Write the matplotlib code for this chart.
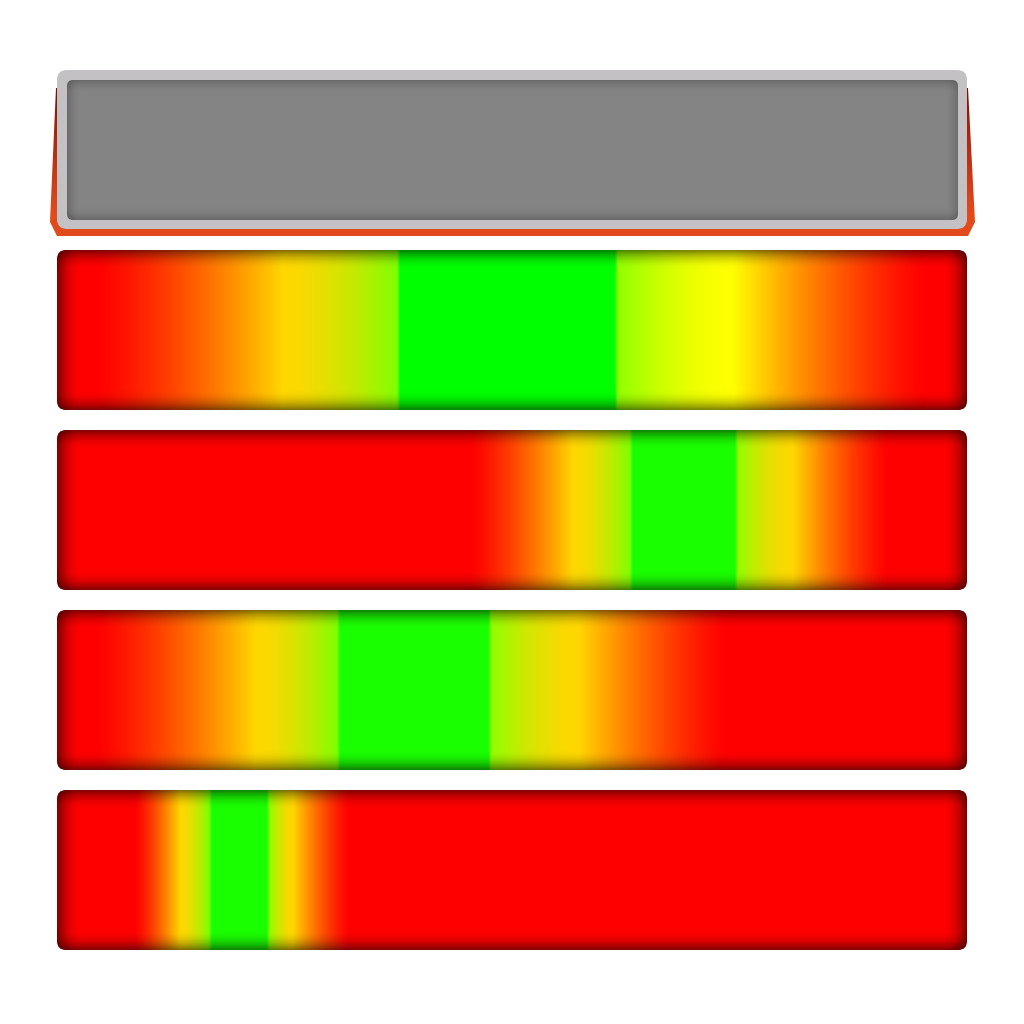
import numpy as np
import matplotlib
matplotlib.use("Agg")
import matplotlib.pyplot as plt
from matplotlib.patches import FancyBboxPatch, Polygon
from matplotlib.colors import to_rgb

# ---- data (value scale 0..100 across the bar) ----
green_lo = [37.7, 63.3, 31.1, 17.0]
green_hi = [61.3, 74.5, 47.4, 23.0]
yellow_lo = [24.8, 56.7, 21.8, 13.5]
yellow_hi = [74.3, 80.9, 57.4, 25.9]
red_lo = [4.2, 45.4, 4.2, 8.5]
red_hi = [95.6, 91.5, 73.8, 32.2]
green_colors = ["#00ff00", "#1aff00", "#1aff00", "#1aff00"]
yellow_left_colors = ["#ffd700", "#ffd700", "#ffd700", "#ffd700"]
yellow_right_colors = ["#ffff00", "#ffd700", "#ffd700", "#ffd700"]
vmin, vmax = 0.0, 100.0

# ---- layout (pixels) ----
PX_L, PX_R = 57, 967
SCALE = (PX_R - PX_L) / (vmax - vmin)  # px per value unit
bar_tops = [250, 430, 610, 790]
bar_h = 160
RAD = 9

fig = plt.figure(figsize=(10.24, 10.24), dpi=100)
ax = fig.add_axes([0, 0, 1, 1])
ax.set_xlim(vmin - PX_L / SCALE, vmin + (1024 - PX_L) / SCALE)
ax.set_ylim(1024, 0)
ax.axis("off")


def px2x(p):
    return vmin + (p - PX_L) / SCALE


def to_u8(a):
    return (np.clip(a, 0, 1) * 255 + 0.5).astype(np.uint8)


def mix(c1, c2, s):
    c1 = np.array(to_rgb(c1)); c2 = np.array(to_rgb(c2))
    return c1[None, :] * (1 - s[:, None]) + c2[None, :] * s[:, None]


def red_to_yellow(t, ycol):
    return mix("#ff0000", ycol, t ** 1.3)


def yellow_to_lime(s, ycol, lcol):
    return mix(ycol, lcol, s ** 1.6)


def edge_factor(n, depth, strength):
    d = np.minimum(np.arange(n) + 0.5, n - np.arange(n) - 0.5)
    u = np.clip(1 - d / depth, 0, 1)
    return 1 - strength * u ** 2


W = PX_R - PX_L
xs = np.linspace(vmin, vmax, W)
ramp = 0.35
for i, top in enumerate(bar_tops):
    cols = np.zeros((W, 3))
    gl, gh = green_lo[i], green_hi[i]
    yl, yh = yellow_lo[i], yellow_hi[i]
    rl, rh = red_lo[i], red_hi[i]
    gc = green_colors[i]
    m = xs < yl
    t = np.clip((xs[m] - rl) / (yl - rl), 0, 1)
    cols[m] = red_to_yellow(t, yellow_left_colors[i])
    m = (xs >= yl) & (xs < gl - ramp)
    s = (xs[m] - yl) / (gl - ramp - yl)
    cols[m] = yellow_to_lime(s, yellow_left_colors[i], "#80ff00")
    m = (xs >= gl - ramp) & (xs < gl)
    cols[m] = mix("#80ff00", gc, (xs[m] - (gl - ramp)) / ramp)
    m = (xs >= gl) & (xs <= gh)
    cols[m] = np.array(to_rgb(gc))
    m = (xs > gh) & (xs <= gh + ramp)
    cols[m] = mix(gc, "#90ff00", (xs[m] - gh) / ramp)
    m = (xs > gh + ramp) & (xs <= yh)
    s = (yh - xs[m]) / (yh - gh - ramp)
    cols[m] = yellow_to_lime(s, yellow_right_colors[i], "#90ff00")
    m = xs > yh
    t = np.clip((rh - xs[m]) / (rh - yh), 0, 1)
    cols[m] = red_to_yellow(t, yellow_right_colors[i])

    fv = edge_factor(bar_h, 20.0, 0.5)
    fh = edge_factor(W, 24.0, 0.52)
    img = cols[None, :, :] * fv[:, None, None] * fh[None, :, None]
    im = ax.imshow(to_u8(img), extent=(vmin, vmax, top + bar_h, top),
                   origin="upper", aspect="auto", interpolation="bilinear", zorder=2)
    clip = FancyBboxPatch((vmin, top), vmax - vmin, bar_h,
                          boxstyle=f"round,pad=0,rounding_size={RAD / SCALE}",
                          mutation_aspect=SCALE, transform=ax.transData,
                          facecolor="none", edgecolor="none")
    ax.add_patch(clip)
    im.set_clip_path(clip)

# ---- top gray panel with orange shadow ----
shadow_pts = [(px2x(56), 88), (px2x(968), 88), (px2x(975), 222), (px2x(968), 236),
              (px2x(57), 236), (px2x(50), 222)]
sh = Polygon(shadow_pts, closed=True, facecolor="none", edgecolor="none",
             transform=ax.transData)
ax.add_patch(sh)
vg = np.linspace(0, 1, 150)
top_c = np.array(to_rgb("#7a0800")); bot_c = np.array(to_rgb("#e24a1c"))
g = np.clip(vg / 0.85, 0, 1) ** 0.8
simg = top_c[None, :] * (1 - g[:, None]) + bot_c[None, :] * g[:, None]
simg = np.repeat(simg[:, None, :], 4, axis=1)
sim = ax.imshow(to_u8(simg), extent=(px2x(48), px2x(977), 237, 86), origin="upper",
                aspect="auto", interpolation="bilinear", zorder=1)
sim.set_clip_path(sh)

outer = FancyBboxPatch((vmin, 70), vmax - vmin, 159,
                       boxstyle=f"round,pad=0,rounding_size={10 / SCALE}",
                       mutation_aspect=SCALE, facecolor="#c3c1c3",
                       edgecolor="none", zorder=3)
ax.add_patch(outer)

ix0, ix1, iy0, iy1 = 67, 958, 80, 220
iw, ih = ix1 - ix0, iy1 - iy0
base = np.array(to_rgb("#848484"))
fv = edge_factor(ih, 14.0, 0.2)
fh = edge_factor(iw, 14.0, 0.2)
gimg = base[None, None, :] * fv[:, None, None] * fh[None, :, None]
gim = ax.imshow(to_u8(gimg), extent=(px2x(ix0), px2x(ix1), iy1, iy0),
                origin="upper", aspect="auto", interpolation="bilinear", zorder=4)
inner = FancyBboxPatch((px2x(ix0), iy0), px2x(ix1) - px2x(ix0), ih,
                       boxstyle=f"round,pad=0,rounding_size={6 / SCALE}",
                       mutation_aspect=SCALE, facecolor="none", edgecolor="none")
ax.add_patch(inner)
gim.set_clip_path(inner)

fig.savefig("out.png", dpi=100, facecolor="white")
